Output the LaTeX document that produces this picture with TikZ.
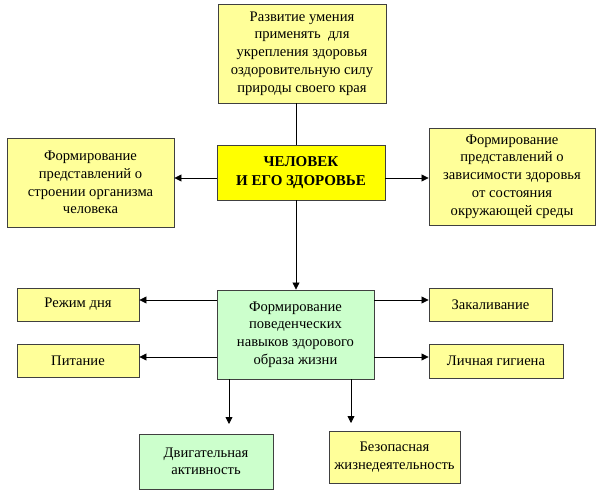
\documentclass[tikz,border=0pt]{standalone}
\usepackage{fontspec}
\setmainfont{Liberation Serif}
\usetikzlibrary{arrows.meta}
\definecolor{lyellow}{HTML}{FFFF99}
\definecolor{byellow}{HTML}{FFFF00}
\definecolor{lgreen}{HTML}{CCFFCC}
\definecolor{bord}{HTML}{404040}
\begin{document}
\begin{tikzpicture}[x=1pt,y=-1pt,
  box/.style={draw=bord, line width=0.9pt, align=center, inner sep=1pt,
    font=\fontsize{14.6}{17.8}\selectfont},
  conn/.style={line width=0.8pt, black},
  arr/.style={conn, -{Triangle[length=7pt,width=7pt]}}]
\useasboundingbox (0,0) rectangle (600,492);
% nodes
\node[box, fill=lyellow, minimum width=168, minimum height=99] (top) at (302,53.5)
  {Развитие умения\\применять\ \ для\\укрепления здоровья\\оздоровительную силу\\природы своего края};
\node[box, fill=byellow, minimum width=168, minimum height=55,
  font=\bfseries\fontsize{15}{19}\selectfont] (center) at (301,172.5)
  {ЧЕЛОВЕК\\И ЕГО ЗДОРОВЬЕ};
\node[box, fill=lyellow, minimum width=167, minimum height=89] (left) at (90.5,182.5)
  {Формирование\\представлений о\\строении организма\\человека};
\node[box, fill=lyellow, minimum width=166, minimum height=97] (right) at (512,176.5)
  {Формирование\\представлений о\\зависимости здоровья\\от состояния\\окружающей среды};
\node[box, fill=lgreen, minimum width=157, minimum height=89] (green) at (295.5,334.5)
  {Формирование\\поведенческих\\навыков здорового\\образа жизни};
\node[box, fill=lyellow, minimum width=122, minimum height=33] (rezhim) at (78,304.5) {Режим дня};
\node[box, fill=lyellow, minimum width=122, minimum height=33] (pitanie) at (78,360.5) {Питание};
\node[box, fill=lyellow, minimum width=123, minimum height=33] (zakal) at (490.5,304.5) {Закаливание};
\node[box, fill=lyellow, minimum width=134, minimum height=34] (gigiena) at (496,361) {Личная гигиена};
\node[box, fill=lgreen, minimum width=134, minimum height=55, font=\fontsize{14.6}{17.3}\selectfont] (dvig) at (206,461.5) {Двигательная\\активность};
\node[box, fill=lyellow, minimum width=131, minimum height=52, font=\fontsize{14.6}{17.3}\selectfont] (bezop) at (394.5,457) {Безопасная\\жизнедеятельность};
% free ends
\coordinate (dvigend) at (229,424);
\coordinate (bezend) at (351,423);
% connectors
\draw[conn] (top.south -| 296,0) -- (center.north -| 296,0);
\draw[arr] (center.south -| 296,0) -- (green.north -| 296,0);
\draw[arr] (center.west |- 0,178) -- (left.east |- 0,178);
\draw[arr] (center.east |- 0,178) -- (right.west |- 0,178);
\draw[arr] (green.west |- 0,300) -- (rezhim.east |- 0,300);
\draw[arr] (green.west |- 0,357) -- (pitanie.east |- 0,357);
\draw[arr] (green.east |- 0,300) -- (zakal.west |- 0,300);
\draw[arr] (green.east |- 0,357) -- (gigiena.west |- 0,357);
\draw[arr] (green.south -| dvigend) -- (dvigend);
\draw[arr] (green.south -| bezend) -- (bezend);
\end{tikzpicture}
\end{document}
